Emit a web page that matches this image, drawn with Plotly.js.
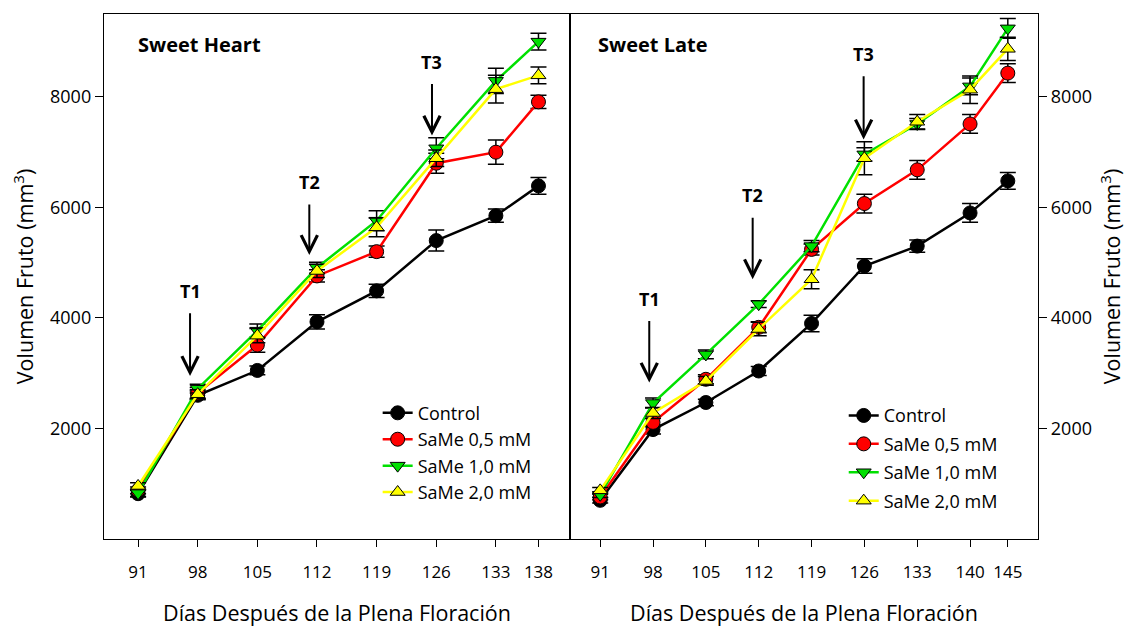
<!DOCTYPE html>
<html>
<head>
<meta charset="utf-8">
<script src="https://cdn.plot.ly/plotly-3.0.1.min.js"></script>
<style>html,body{margin:0;padding:0;background:#fff;}#chart{width:1136px;height:627px;}</style>
</head>
<body>
<div id="chart"></div>
<script>
// ---- Data ----
const seriesNames = ["Control", "SaMe 0,5 mM", "SaMe 1,0 mM", "SaMe 2,0 mM"];

// Sweet Heart (left panel)
const daysHeart = [91, 98, 105, 112, 119, 126, 133, 138];
const heartControl = [820, 2600, 3050, 3930, 4490, 5400, 5850, 6390];
const heartSaMe05 = [880, 2640, 3510, 4760, 5200, 6800, 7000, 7910];
const heartSaMe10 = [830, 2720, 3770, 4910, 5760, 7070, 8290, 9000];
const heartSaMe20 = [960, 2620, 3680, 4850, 5640, 6890, 8140, 8390];
const heartErrControl = [60, 80, 80, 130, 120, 190, 120, 150];
const heartErr05 = [60, 100, 130, 110, 100, 180, 220, 120];
const heartErr10 = [60, 80, 120, 100, 180, 190, 230, 150];
const heartErr20 = [60, 80, 130, 120, 170, 150, 250, 150];

// Sweet Late (right panel)
const daysLate = [91, 98, 105, 112, 119, 126, 133, 140, 145];
const lateControl = [700, 1980, 2470, 3040, 3900, 4940, 5300, 5900, 6480];
const lateSaMe05 = [760, 2110, 2890, 3830, 5240, 6070, 6680, 7510, 8430];
const lateSaMe10 = [800, 2460, 3340, 4250, 5300, 6960, 7510, 8190, 9240];
const lateSaMe20 = [880, 2280, 2860, 3800, 4700, 6890, 7550, 8130, 8870];
const lateErrControl = [50, 80, 60, 80, 150, 130, 110, 170, 150];
const lateErr05 = [50, 80, 80, 100, 100, 170, 170, 170, 170];
const lateErr10 = [50, 90, 80, 60, 100, 120, 100, 150, 180];
const lateErr20 = [50, 100, 80, 120, 170, 300, 130, 250, 210];

// Treatment arrows: [label, day, head value, label value]
const heartArrows = [["T1", 97.1, 2950, 4490], ["T2", 111.1, 5140, 6460], ["T3", 125.5, 7300, 8640]];
const lateArrows = [["T1", 97.5, 2830, 4350], ["T2", 111.2, 4700, 6220], ["T3", 125.9, 7230, 8780]];

// ---- Styles ----
const colors = ["#000000", "#ff0000", "#00e000", "#ffff00"];
const symbols = ["circle", "circle", "triangle-down", "triangle-up"];
const FONT = "Open Sans, Noto Sans, sans-serif";

function mk(x, y, err, i, xa, ya, leg) {
  return {
    x: x, y: y, type: "scatter", mode: "lines+markers",
    name: seriesNames[i], xaxis: xa, yaxis: ya, legend: leg, legendgroup: leg + i,
    line: {color: colors[i], width: 2.5},
    marker: {color: colors[i], symbol: symbols[i], size: i >= 2 ? 13 : 14,
             line: {color: "#000", width: 1}},
    error_y: {type: "data", array: err, visible: true, color: "#000", thickness: 1.5, width: 8}
  };
}

const traces = [
  mk(daysHeart, heartControl, heartErrControl, 0, "x", "y", "legend"),
  mk(daysHeart, heartSaMe05, heartErr05, 1, "x", "y", "legend"),
  mk(daysHeart, heartSaMe10, heartErr10, 2, "x", "y", "legend"),
  mk(daysHeart, heartSaMe20, heartErr20, 3, "x", "y", "legend"),
  mk(daysLate, lateControl, lateErrControl, 0, "x2", "y2", "legend2"),
  mk(daysLate, lateSaMe05, lateErr05, 1, "x2", "y2", "legend2"),
  mk(daysLate, lateSaMe10, lateErr10, 2, "x2", "y2", "legend2"),
  mk(daysLate, lateSaMe20, lateErr20, 3, "x2", "y2", "legend2")
];

const annotations = [];
function addArrows(list, xr, yr) {
  list.forEach(a => {
    annotations.push({x: a[1], y: a[2], ax: a[1], ay: a[3], xref: xr, yref: yr, axref: xr, ayref: yr,
      text: "<b>" + a[0] + "</b>", showarrow: true, arrowhead: 5, arrowsize: 1.6, arrowwidth: 2,
      arrowcolor: "#000", startstandoff: 9, font: {family: FONT, size: 18, color: "#000"}});
  });
}
addArrows(heartArrows, "x", "y");
addArrows(lateArrows, "x2", "y2");

annotations.push({xref: "x domain", yref: "y domain", x: 0.068, y: 0.941, text: "<b>Sweet Heart</b>",
  showarrow: false, xanchor: "left", yanchor: "middle", font: {family: FONT, size: 20, color: "#000"}});
annotations.push({xref: "x2 domain", yref: "y2 domain", x: 0.055, y: 0.941, text: "<b>Sweet Late</b>",
  showarrow: false, xanchor: "left", yanchor: "middle", font: {family: FONT, size: 20, color: "#000"}});

const xTickFont = {family: FONT, size: 17, color: "#000"};
const yTickFont = {family: FONT, size: 18, color: "#000"};
const titleFont = {family: FONT, size: 21.5, color: "#000"};
const split = 466 / 934;

const layout = {
  width: 1136, height: 627,
  margin: {l: 104, r: 98, t: 14, b: 88},
  paper_bgcolor: "#fff", plot_bgcolor: "#fff",
  font: {family: FONT, color: "#000"},
  showlegend: true,
  xaxis: {domain: [0, split], range: [87, 141.7], tickvals: daysHeart, ticktext: daysHeart.map(String),
    showgrid: false, zeroline: false, showline: true, mirror: true, linecolor: "#000", linewidth: 1.2,
    ticks: "outside", ticklen: 7, tickcolor: "#000", tickfont: xTickFont, ticklabelstandoff: 10,
    title: {text: "Días Después de la Plena Floración", font: titleFont, standoff: 30}},
  yaxis: {domain: [0, 1], range: [0, 9500], tickvals: [2000, 4000, 6000, 8000],
    showgrid: false, zeroline: false, showline: true, mirror: true, linecolor: "#000", linewidth: 1.2,
    ticks: "outside", ticklen: 8, tickcolor: "#000", tickfont: yTickFont,
    title: {text: "Volumen Fruto (mm<sup>3</sup>)", font: titleFont, standoff: 10}},
  xaxis2: {domain: [split, 1], range: [87, 149], tickvals: daysLate, ticktext: daysLate.map(String), anchor: "y2",
    showgrid: false, zeroline: false, showline: true, mirror: true, linecolor: "#000", linewidth: 1.2,
    ticks: "outside", ticklen: 7, tickcolor: "#000", tickfont: xTickFont, ticklabelstandoff: 10,
    title: {text: "Días Después de la Plena Floración", font: titleFont, standoff: 30}},
  yaxis2: {domain: [0, 1], range: [0, 9500], tickvals: [2000, 4000, 6000, 8000], anchor: "x2", side: "right",
    showgrid: false, zeroline: false, showline: true, mirror: true, linecolor: "#000", linewidth: 1.2,
    ticks: "outside", ticklen: 8, tickcolor: "#000", tickfont: yTickFont,
    title: {text: "Volumen Fruto (mm<sup>3</sup>)", font: titleFont, standoff: 14}},
  legend: {x: 0.293, y: 0.275, xanchor: "left", yanchor: "top", bgcolor: "rgba(0,0,0,0)",
    font: {family: FONT, size: 18, color: "#000"}, tracegroupgap: 0},
  legend2: {x: 0.792, y: 0.27, xanchor: "left", yanchor: "top", bgcolor: "rgba(0,0,0,0)",
    font: {family: FONT, size: 18, color: "#000"}, tracegroupgap: 2},
  annotations: annotations
};

Plotly.newPlot("chart", traces, layout, {displayModeBar: false, staticPlot: true});
</script>
</body>
</html>
